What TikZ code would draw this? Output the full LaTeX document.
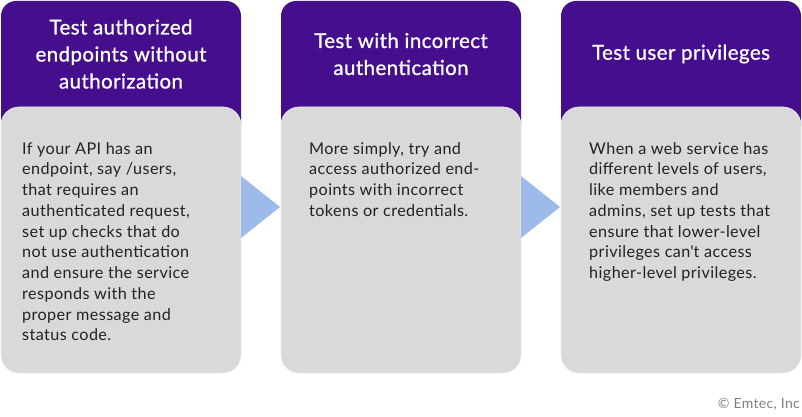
\documentclass[tikz,border=0pt]{standalone}
\usepackage{fontspec}
\setmainfont{Lato}[LetterSpace=2.5]
\newfontfamily\headfont{Lato}[LetterSpace=2, FakeBold=0.9]
\usetikzlibrary{positioning}
\definecolor{headpurple}{HTML}{440E8C}
\definecolor{bodygray}{HTML}{D9D9D9}
\definecolor{arrowblue}{HTML}{9DBAEB}
\definecolor{textdark}{HTML}{222222}

\begin{document}
\begin{tikzpicture}[x=1pt, y=-1pt,
    body/.style={fill=bodygray, draw=white!92!black, line width=0.6pt, rounded corners=18pt},
    headtext/.style={text=white, align=center, font=\headfont\fontsize{20.5}{27}\selectfont},
    bodytext/.style={text=textdark, align=left, anchor=north west, inner sep=0pt, font=\fontsize{16.2}{20.75}\selectfont},
    chevron/.style={fill=arrowblue, draw=none}
]
\useasboundingbox (0,0) rectangle (802,417);
% three columns
\foreach \x in {1, 281, 561} {
  \fill[headpurple, rounded corners=15pt] (\x,1) rectangle ++(240,140);
  \draw[body] (\x,107) rectangle ++(240,266);
}
\node[headtext] (ha) at (121,54) {Test authorized\\endpoints without\\authorization};
\node[headtext] (hb) at (401,54) {Test with incorrect\\authentication};
\node[headtext] (hc) at (681,54) {Test user privileges};

\node[bodytext] (ta) at (22,142) {If your API has an\\endpoint, say /users,\\that requires an\\authenticated request,\\set up checks that do\\not use authentication\\and ensure the service\\responds with the\\proper message and\\status code.};
\node[bodytext] (tb) at (309,142) {More simply, try and\\access authorized end-\\points with incorrect\\tokens or credentials.};
\node[bodytext] (tc) at (589,142) {When a web service has\\different levels of users,\\like members and\\admins, set up tests that\\ensure that lower-level\\privileges can\textquotesingle t access\\higher-level privileges.};

% arrows between columns
\foreach \x in {241, 521} {
  \fill[chevron] (\x,176) -- (\x+39,207) -- (\x,238) -- cycle;
}

\node[text=black!50, anchor=east, font=\fontsize{14}{16}\selectfont, inner sep=0pt] (copy) at (800,404) {© Emtec, Inc};
\end{tikzpicture}
\end{document}
